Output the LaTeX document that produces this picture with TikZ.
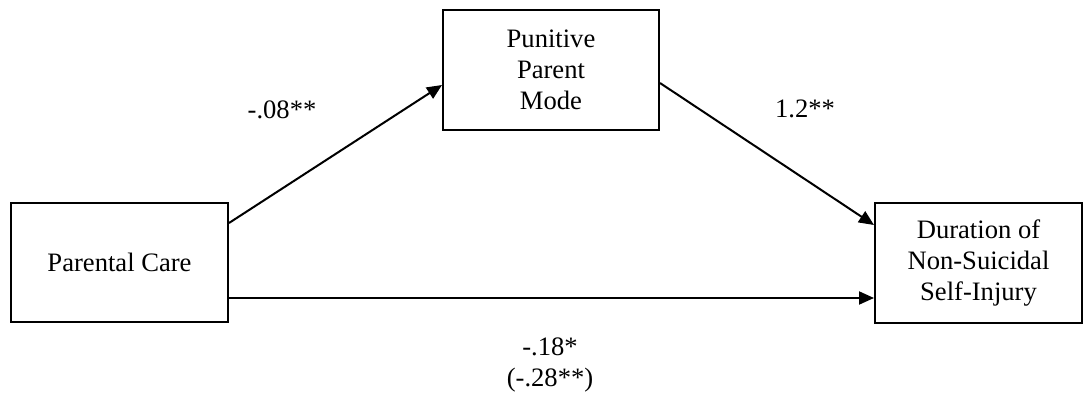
\documentclass[tikz,border=0pt]{standalone}
\usepackage{fontspec}
\setmainfont{Liberation Serif}
\usetikzlibrary{arrows.meta}
\begin{document}
\begin{tikzpicture}[x=0.5pt,y=-0.5pt,
  box/.style={draw,line width=1pt,minimum width=#1,inner sep=0pt,align=center,font=\fontsize{13.3pt}{15.5pt}\selectfont},
  lbl/.style={align=center,inner sep=0pt,font=\fontsize{13.3pt}{15.5pt}\selectfont},
  link/.style={line width=1pt,-{Triangle[length=7.5pt,width=6.5pt]}}]
\useasboundingbox (0,0) rectangle (1083,396);
\node[box=108.5pt,minimum height=59.5pt] (pc) at (119.5,262.5) {Parental Care};
\node[box=108pt,minimum height=60pt] (ppm) at (551,70) {Punitive\\Parent\\Mode};
\node[box=103.5pt,minimum height=60pt] (dur) at (978.5,263) {Duration of\\Non-Suicidal\\Self-Injury};
\draw[link] ([yshift=19.75pt]pc.east) -- ([yshift=-7.5pt]ppm.west);
\draw[link] ([yshift=-6.5pt]ppm.east) -- ([yshift=19pt]dur.west);
\draw[link] ([yshift=-17.75pt]pc.east) -- ([yshift=-17.5pt]dur.west);
\node[lbl] (l1) at (282,110) {-.08**};
\node[lbl] (l2) at (805,109) {1.2**};
\node[lbl] (l3) at (550,365) {-.18*\\(-.28**)};
\end{tikzpicture}
\end{document}
